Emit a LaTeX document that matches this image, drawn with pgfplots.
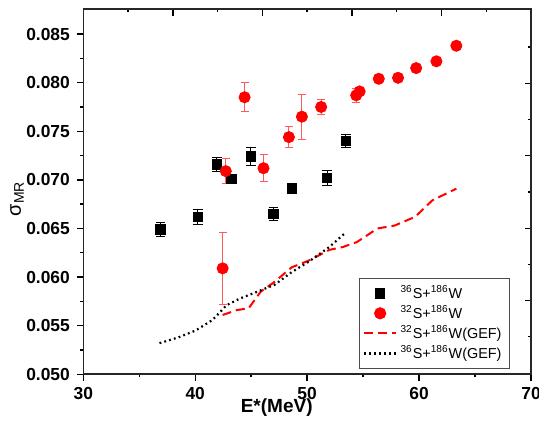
\documentclass[border=0pt]{standalone}
\usepackage{fontspec}
\setmainfont{Liberation Sans}
\usepackage{pgfplots}
\pgfplotsset{compat=1.18}

\pgfplotsset{
  mrbox/.style={
    scale only axis, width=223.85pt, height=182.5pt,
    xmin=30, xmax=70, ymin=0.050, ymax=0.08755,
    axis line style={line width=0.8pt, black!85},
    major tick length=3.2pt, minor tick length=1.6pt,
    tick style={line width=0.7pt, black},
    scaled x ticks=false, scaled y ticks=false,
  },
  markleg/.style={legend image code/.code={\draw[##1] plot coordinates {(0.28cm,0cm)};}},
}

\begin{document}
\begin{tikzpicture}
\begin{axis}[mrbox,
    xtick={30,40,50,60,70}, minor tick num=1,
    ytick={0.05,0.055,0.06,0.065,0.07,0.075,0.08,0.085},
    xtick pos=left, ytick pos=left, tick align=outside,
    /pgf/number format/assume math mode=true,
    yticklabel style={/pgf/number format/.cd, fixed, fixed zerofill, precision=3},
    tick label style={font=\fontsize{8.7}{10}\selectfont\bfseries},
    xlabel={E*(MeV)},
    every axis x label/.style={at={(axis description cs:0.432,0)}, anchor=center,
      yshift=-16.8pt, font=\fontsize{9.5}{11}\selectfont\bfseries},
    ylabel={σ\textsubscript{MR}},
    every axis y label/.style={at={(axis description cs:-0.148,0.4816)}, anchor=center,
      rotate=90, font=\fontsize{10}{12}\selectfont},
    legend style={at={(0.953,0.0145)}, anchor=south east, draw=black!70, line width=0.5pt,
      font=\fontsize{7.2}{8}\selectfont, row sep=-2pt, inner xsep=2pt, inner ysep=1.5pt},
    legend cell align=left,
    legend image code/.code={\draw[#1] (0cm,0cm) -- (0.55cm,0cm);},
    error bars/y dir=both, error bars/y explicit,
]
% 36S+186W measured
\addplot [only marks, mark=square*, mark size=2.4pt, mark options={fill=black, draw=black},
    error bars/error bar style={black, line width=0.5pt},
    error bars/error mark options={rotate=90, mark size=2.4pt, black, line width=0.5pt},
    markleg]
  table [x=x, y=y, y error=e] {
x y e
36.90 0.0649 0.0007
40.24 0.0662 0.0008
41.93 0.0716 0.00075
43.25 0.0701 0.0002
44.97 0.0724 0.0009
46.99 0.0665 0.0007
48.65 0.0691 0.0002
51.78 0.0702 0.0008
53.46 0.0740 0.0007
};
\addlegendentry{\textsuperscript{36}S+\textsuperscript{186}W}
% 32S+186W measured
\addplot [only marks, mark=*, mark size=2.8pt, mark options={fill=red, draw=red},
    error bars/error bar style={red!65, line width=0.5pt},
    error bars/error mark options={rotate=90, mark size=2pt, red!65, line width=0.5pt},
    markleg]
  table [x=x, y=y, y error=e] {
x y e
42.45 0.0609 0.0037
42.73 0.0709 0.0013
44.41 0.0785 0.0015
46.10 0.0712 0.0014
48.37 0.0744 0.0011
49.53 0.0765 0.0023
51.25 0.0775 0.0008
54.38 0.0787 0.0007
54.69 0.0791 0.0002
56.40 0.0804 0.0002
58.12 0.0805 0.0002
59.74 0.0815 0.0002
61.55 0.0822 0.0002
63.33 0.0838 0.0002
};
\addlegendentry{\textsuperscript{32}S+\textsuperscript{186}W}
% GEF 32S
\addplot [red, line width=1pt, dash pattern=on 4.5pt off 2.5pt] coordinates {
(42.45,0.0561) (43.70,0.0566) (44.78,0.0568) (45.85,0.0585) (47.08,0.0595)
(48.61,0.0610) (50.15,0.0617) (51.99,0.0628) (53.21,0.0631) (54.44,0.0636)
(56.28,0.0650) (57.81,0.0653) (59.65,0.0662) (61.19,0.0679) (63.33,0.0691)
};
\addlegendentry{\textsuperscript{32}S+\textsuperscript{186}W(GEF)}
% GEF 36S
\addplot [black, line width=1.1pt, dash pattern=on 0.9pt off 1.6pt] coordinates {
(36.81,0.0532) (38.50,0.0538) (40.03,0.0545) (41.56,0.0556) (42.79,0.0571)
(44.00,0.0578) (45.55,0.0585) (47.08,0.0592) (48.61,0.0605) (50.15,0.0616)
(51.99,0.0631) (53.46,0.0646)
};
\addlegendentry{\textsuperscript{36}S+\textsuperscript{186}W(GEF)}
\end{axis}
\begin{axis}[mrbox,
    xtick pos=right, ytick pos=right, tick align=inside,
    xtick={38,46,54,62}, minor xtick={34,42,50,58,66},
    ytick={0.05757,0.06502,0.07249,0.07994}, minor ytick={0.05387,0.06132,0.06876,0.07621,0.08367},
    xticklabels={}, yticklabels={},
]
\addplot [draw=none] coordinates {(30,0.05)};
\end{axis}
\pgfresetboundingbox
\useasboundingbox (-41.65pt,-23.35pt) rectangle (227.85pt,187.15pt);
\end{tikzpicture}
\end{document}
